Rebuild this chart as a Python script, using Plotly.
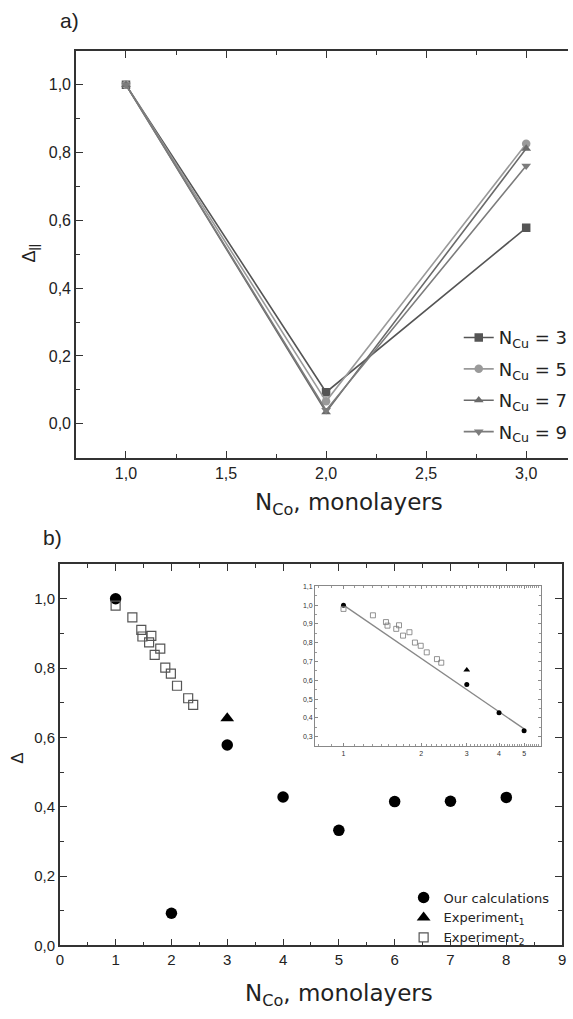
import numpy as np
import plotly.graph_objects as go

W, H = 573, 1019

# ---------------- data: panel a ----------------
a_x = [1, 2, 3]
a_ncu3 = [1.0, 0.093, 0.578]
a_ncu5 = [1.0, 0.066, 0.826]
a_ncu7 = [1.0, 0.034, 0.812]
a_ncu9 = [1.0, 0.040, 0.761]
a_names = ["N<sub>Cu</sub> = 3", "N<sub>Cu</sub> = 5", "N<sub>Cu</sub> = 7", "N<sub>Cu</sub> = 9"]

# ---------------- data: panel b ----------------
calc_x = [1, 2, 3, 4, 5, 6, 7, 8]
calc_y = [1.0, 0.093, 0.578, 0.428, 0.332, 0.415, 0.416, 0.427]
exp1_x = [3]
exp1_y = [0.655]
exp2_x = [1.0, 1.30, 1.46, 1.48, 1.60, 1.64, 1.70, 1.80, 1.89, 1.99, 2.10, 2.30, 2.39]
exp2_y = [0.980, 0.946, 0.910, 0.891, 0.874, 0.893, 0.838, 0.856, 0.801, 0.784, 0.749, 0.713, 0.694]
fit_x = [1.0, 5.0]
fit_y = [1.0, 0.342]

FONT = "Liberation Sans, Arial, sans-serif"
WFONT = "DejaVu Sans, Liberation Sans, sans-serif"
AX = "#333333"

def px_x(p):
    return p / W

def px_y(p):
    return 1 - p / H

fig = go.Figure()

# panel a traces
styles = [
    (a_ncu3, "square", "#555555"),
    (a_ncu5, "circle", "#9a9a9a"),
    (a_ncu7, "triangle-up", "#6a6a6a"),
    (a_ncu9, "triangle-down", "#7c7c7c"),
]
for i, ((vals, sym, col), name) in enumerate(zip(styles, a_names)):
    fig.add_trace(go.Scatter(
        x=a_x, y=vals, mode="lines+markers", name=name,
        line=dict(color=col, width=1.6),
        marker=dict(symbol=sym, size=8.5, color=col),
        xaxis="x", yaxis="y", legend="legend", legendgroup=f"a{i}",
    ))

# panel b traces
fig.add_trace(go.Scatter(
    x=calc_x, y=calc_y, mode="markers", name="Our calculations",
    marker=dict(symbol="circle", size=11.5, color="black"),
    xaxis="x2", yaxis="y2", legend="legend2", legendgroup="b0",
))
fig.add_trace(go.Scatter(
    x=exp1_x, y=exp1_y, mode="markers", name="Experiment<sub>1</sub>",
    marker=dict(symbol="triangle-up", size=12, color="black"),
    xaxis="x2", yaxis="y2", legend="legend2", legendgroup="b1",
))
fig.add_trace(go.Scatter(
    x=exp2_x, y=exp2_y, mode="markers", name="Experiment<sub>2</sub>",
    marker=dict(symbol="square-open", size=9, color="#555555", line=dict(width=1.2)),
    xaxis="x2", yaxis="y2", legend="legend2", legendgroup="b2",
))

# inset traces
fig.add_trace(go.Scatter(
    x=fit_x, y=fit_y, mode="lines", showlegend=False,
    line=dict(color="#888888", width=1.3), xaxis="x3", yaxis="y3",
))
ins_idx = [i for i, (xv, yv) in enumerate(zip(calc_x, calc_y)) if xv <= 5 and yv > 0.25]
fig.add_trace(go.Scatter(
    x=[calc_x[i] for i in ins_idx], y=[calc_y[i] for i in ins_idx], mode="markers",
    showlegend=False, marker=dict(symbol="circle", size=5, color="black"),
    xaxis="x3", yaxis="y3",
))
fig.add_trace(go.Scatter(
    x=exp1_x, y=exp1_y, mode="markers", showlegend=False,
    marker=dict(symbol="triangle-up", size=6, color="black"), xaxis="x3", yaxis="y3",
))
fig.add_trace(go.Scatter(
    x=exp2_x, y=exp2_y, mode="markers", showlegend=False,
    marker=dict(symbol="square-open", size=5, color="#777777", line=dict(width=0.8)),
    xaxis="x3", yaxis="y3",
))

def common(size):
    return dict(showgrid=False, zeroline=False, showline=True, linecolor=AX, linewidth=1.5,
                ticks="inside", tickcolor=AX, tickwidth=1.2, ticklen=7,
                ticklabeloverflow="allow",
                tickfont=dict(family=FONT, size=size, color="#222"))

# panel a axes
x1_lo = 0.75
x1_hi = x1_lo + (W - 73.1) / 203.3
fig.update_layout(
    xaxis=dict(domain=[px_x(73.1), 1.0], range=[x1_lo, x1_hi], anchor="y",
               dtick=0.5, tick0=0, tickformat=".1f", mirror="ticks",
               minor=dict(dtick=0.25, tick0=0, ticks="inside", ticklen=4, tickcolor=AX),
               **common(16)),
    yaxis=dict(domain=[px_y(459), px_y(47.5)], range=[-0.1, 1.1], anchor="x",
               dtick=0.2, tick0=0, tickformat=".1f", mirror=False,
               minor=dict(dtick=0.1, tick0=0, ticks="inside", ticklen=4, tickcolor=AX),
               **common(16)),
    xaxis2=dict(domain=[px_x(56.7), px_x(567)], range=[0, 9], anchor="y2",
                dtick=1, tick0=0, mirror="ticks",
                minor=dict(dtick=0.5, tick0=0, ticks="inside", ticklen=4, tickcolor=AX),
                **common(15)),
    yaxis2=dict(domain=[px_y(952.7), px_y(566.7)], range=[0, 1.1], anchor="x2",
                dtick=0.2, tick0=0, tickformat=".1f", mirror="ticks",
                minor=dict(dtick=0.1, tick0=0, ticks="inside", ticklen=4, tickcolor=AX),
                **common(15)),
    xaxis3=dict(domain=[px_x(316), px_x(545.7)], type="log",
                range=[np.log10(0.776), np.log10(5.82)], anchor="y3",
                tickmode="array", tickvals=[1, 2, 3, 4, 5], ticktext=["1", "2", "3", "4", "5"],
                showgrid=False, zeroline=False, showline=True, linecolor="#888", linewidth=1,
                mirror="ticks", ticks="inside", ticklen=3, tickcolor="#888",
                minor=dict(tickmode="array",
                           tickvals=[round(v, 1) for v in np.arange(0.8, 5.85, 0.1)],
                           ticks="inside", ticklen=2, tickcolor="#999"),
                tickfont=dict(family=FONT, size=7, color="#333")),
    yaxis3=dict(domain=[px_y(751), px_y(589.3)], range=[0.25, 1.1], anchor="x3",
                dtick=0.1, tick0=0, tickformat=".1f",
                showgrid=False, zeroline=False, showline=True, linecolor="#888", linewidth=1,
                mirror="ticks", ticks="inside", ticklen=3, tickcolor="#888",
                minor=dict(dtick=0.05, tick0=0, ticks="inside", ticklen=2, tickcolor="#999"),
                tickfont=dict(family=FONT, size=7, color="#333")),
)

fig.update_layout(
    width=W, height=H, margin=dict(l=0, r=0, t=0, b=0),
    paper_bgcolor="white", plot_bgcolor="white",
    separators=", ",
    font=dict(family=FONT, color="#222"),
    legend=dict(x=px_x(462), y=px_y(319), xanchor="left", yanchor="top",
                bgcolor="rgba(0,0,0,0)", font=dict(family=WFONT, size=18, color="#222"),
                tracegroupgap=5, itemwidth=30),
    legend2=dict(x=px_x(406), y=px_y(889), xanchor="left", yanchor="top",
                 bgcolor="rgba(0,0,0,0)", font=dict(family=WFONT, size=13, color="#222"),
                 tracegroupgap=0, itemwidth=30),
)

ann = [
    dict(text="a)", x=px_x(55), y=px_y(17), xanchor="left", yanchor="middle", font=dict(size=21)),
    dict(text="b)", x=px_x(38), y=px_y(540), xanchor="left", yanchor="middle", font=dict(size=21)),
    dict(text="N<sub>Co</sub>, monolayers", x=px_x(350), y=px_y(506), xanchor="center",
         yanchor="middle", font=dict(size=23, family=WFONT)),
    dict(text="N<sub>Co</sub>, monolayers", x=px_x(340), y=px_y(1003), xanchor="center",
         yanchor="middle", font=dict(size=23, family=WFONT)),
    dict(text="Δ<sub>||</sub>", x=px_x(26), y=px_y(252), xanchor="center", yanchor="middle",
         textangle=-90, font=dict(size=18)),
    dict(text="Δ", x=px_x(13), y=px_y(763), xanchor="center", yanchor="middle",
         textangle=-90, font=dict(size=17)),
]
for a in ann:
    a.update(xref="paper", yref="paper", showarrow=False)
    f = dict(family=FONT, color="#222")
    f.update(a["font"])
    a["font"] = f
fig.update_layout(annotations=ann)

fig.write_html("out.html", config={"displayModeBar": False},
               post_script="document.body.style.margin='0';document.body.style.overflow='hidden';")
